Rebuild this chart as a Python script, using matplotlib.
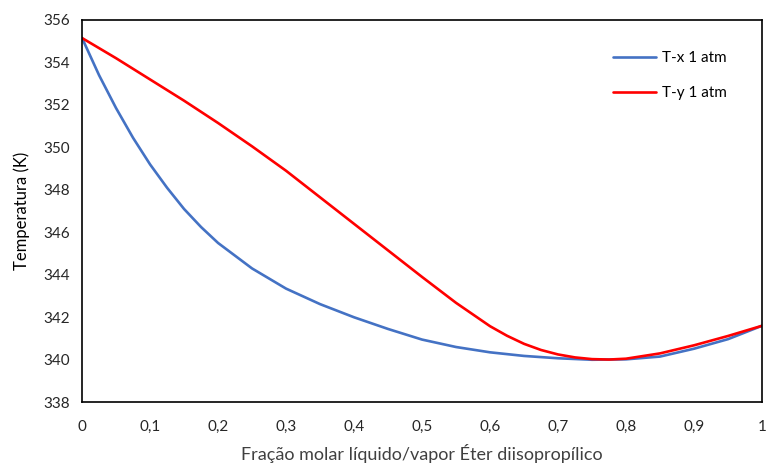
import numpy as np
import matplotlib.pyplot as plt

# T-x curve (liquid)
frac_x = [0, 0.025, 0.05, 0.075, 0.1, 0.125, 0.15, 0.175, 0.2, 0.25, 0.3, 0.35,
          0.4, 0.45, 0.5, 0.55, 0.6, 0.65, 0.7, 0.75, 0.8, 0.85, 0.9, 0.95, 1.0]
temp_x = [355.15, 353.4, 351.85, 350.45, 349.2, 348.1, 347.1, 346.25, 345.5,
          344.3, 343.35, 342.62, 342.0, 341.45, 340.95, 340.6, 340.35, 340.18,
          340.07, 340.0, 340.02, 340.15, 340.52, 340.97, 341.6]

# T-y curve (vapor)
frac_y = [0, 0.05, 0.1, 0.15, 0.2, 0.25, 0.3, 0.35, 0.4, 0.45, 0.5, 0.55, 0.6,
          0.625, 0.65, 0.675, 0.7, 0.725, 0.75, 0.775, 0.8, 0.85, 0.9, 0.95, 1.0]
temp_y = [355.15, 354.2, 353.2, 352.2, 351.15, 350.05, 348.9, 347.65, 346.4,
          345.15, 343.9, 342.68, 341.58, 341.13, 340.75, 340.46, 340.25, 340.11,
          340.03, 340.01, 340.05, 340.3, 340.68, 341.12, 341.6]

xticks = np.round(np.arange(0, 1.01, 0.1), 1)
yticks = np.arange(338, 357, 2)

plt.rcParams['font.family'] = ['Lato', 'DejaVu Sans']
fig = plt.figure(figsize=(7.67, 4.65), dpi=100)
ax = fig.add_axes([0.107, 0.135, 0.8865, 0.822])

ax.plot(frac_x, temp_x, color='#4472C4', lw=1.9, label='T-x 1 atm', solid_capstyle='round')
ax.plot(frac_y, temp_y, color='#FF0000', lw=1.9, label='T-y 1 atm', solid_capstyle='round')

ax.set_xlim(0, 1)
ax.set_ylim(338, 356)
ax.set_xticks(xticks)
ax.set_xticklabels([('%g' % t).replace('.', ',') for t in xticks])
ax.set_yticks(yticks)
ax.tick_params(length=0, labelsize=11, colors='#262626')
ax.tick_params(axis='x', pad=13)
ax.tick_params(axis='y', pad=9)
for s in ax.spines.values():
    s.set_color('black')
    s.set_linewidth(1.2)

ax.set_xlabel('Fração molar líquido/vapor Éter diisopropílico', fontsize=13, color='#404040', labelpad=7)
ax.set_ylabel('Temperatura (K)', fontsize=12, color='black', labelpad=9)

ax.legend(loc='upper right', bbox_to_anchor=(0.968, 0.955), frameon=False, fontsize=11,
          handlelength=2.8, labelspacing=1.4, handletextpad=0.4)

fig.savefig('out.png', dpi=100, facecolor='white')
